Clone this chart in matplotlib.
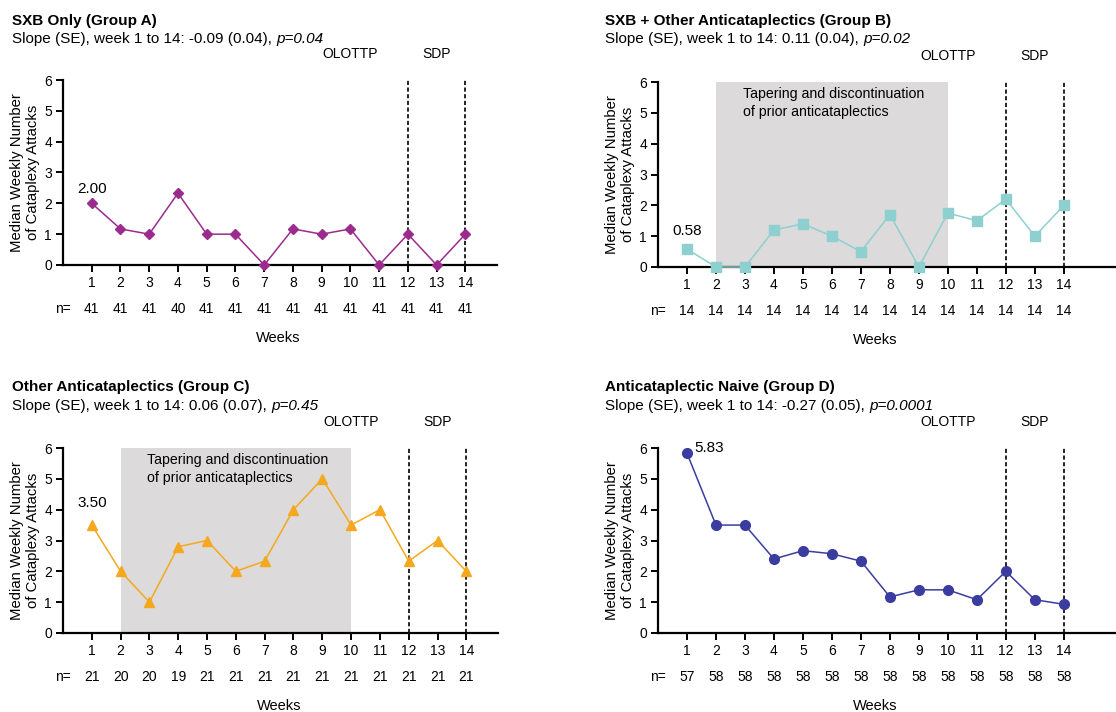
import matplotlib.pyplot as plt

plt.rcParams["font.family"] = ["Liberation Sans", "DejaVu Sans"]
plt.rcParams["font.size"] = 10

weeks = list(range(1, 15))

group_a = [2.00, 1.17, 1.00, 2.33, 1.00, 1.00, 0.00, 1.17, 1.00, 1.17, 0.00, 1.00, 0.00, 1.00]
group_b = [0.58, 0.00, 0.00, 1.20, 1.40, 1.00, 0.50, 1.70, 0.00, 1.75, 1.50, 2.20, 1.00, 2.00]
group_c = [3.50, 2.00, 1.00, 2.80, 3.00, 2.00, 2.33, 4.00, 5.00, 3.50, 4.00, 2.33, 3.00, 2.00]
group_d = [5.83, 3.50, 3.50, 2.40, 2.67, 2.57, 2.33, 1.17, 1.40, 1.40, 1.08, 2.00, 1.08, 0.93]

n_a = [41, 41, 41, 40, 41, 41, 41, 41, 41, 41, 41, 41, 41, 41]
n_b = [14] * 14
n_c = [21, 20, 20, 19, 21, 21, 21, 21, 21, 21, 21, 21, 21, 21]
n_d = [57, 58, 58, 58, 58, 58, 58, 58, 58, 58, 58, 58, 58, 58]

titles = [
    "SXB Only (Group A)",
    "SXB + Other Anticataplectics (Group B)",
    "Other Anticataplectics (Group C)",
    "Anticataplectic Naive (Group D)",
]
slopes = [
    ("-0.09 (0.04)", "0.04"),
    ("0.11 (0.04)", "0.02"),
    ("0.06 (0.07)", "0.45"),
    ("-0.27 (0.05)", "0.0001"),
]
first_labels = ["2.00", "0.58", "3.50", "5.83"]

W, H = 1116, 712


def px_rect(left, right, top, bottom):
    return [left / W, 1 - bottom / H, (right - left) / W, (bottom - top) / H]


panels = [
    dict(values=group_a, n=n_a, color="#9b2b8d", marker="D", ms=5.5,
         rect=px_rect(63, 497, 80, 265), xmax=15.1, taper=False,
         label_xy=(1, 2.47), label_ha="center",
         title_xy=(12, 21), sub_xy=(12, 39)),
    dict(values=group_b, n=n_b, color="#8ecfcf", marker="s", ms=7.5,
         rect=px_rect(658, 1116, 82, 267), xmax=15.8, taper=True,
         label_xy=(1, 1.17), label_ha="center",
         title_xy=(605, 21), sub_xy=(605, 39)),
    dict(values=group_c, n=n_c, color="#f5a81e", marker="^", ms=7.5,
         rect=px_rect(63, 498, 448, 633), xmax=15.1, taper=True,
         label_xy=(1, 4.22), label_ha="center",
         title_xy=(12, 387), sub_xy=(12, 406)),
    dict(values=group_d, n=n_d, color="#3a3d9f", marker="o", ms=7,
         rect=px_rect(658, 1116, 448, 633), xmax=15.8, taper=False,
         label_xy=(1.27, 6.0), label_ha="left",
         title_xy=(605, 387), sub_xy=(605, 406)),
]

fig = plt.figure(figsize=(W / 100, H / 100), dpi=100)

for p, title, (slope, pval), lab in zip(panels, titles, slopes, first_labels):
    ax = fig.add_axes(p["rect"])
    ax.set_xlim(0, p["xmax"])
    ax.set_ylim(0, 6)

    if p["taper"]:
        ax.axvspan(2, 10, ymin=0, ymax=1, color="#dcdadb", lw=0, zorder=0)
        ax.text(2.93, 5.33, "Tapering and discontinuation\nof prior anticataplectics",
                ha="left", va="center", fontsize=10.2, linespacing=1.35)

    for xv in (12, 14):
        ax.plot([xv, xv], [0, 6], color="black", ls=(0, (2.5, 1.5)), lw=1.2,
                zorder=1, clip_on=False)

    ax.plot(weeks, p["values"], color=p["color"], lw=1.1, marker=p["marker"],
            ms=p["ms"], mec=p["color"], mfc=p["color"], clip_on=False, zorder=3)

    ax.text(p["label_xy"][0], p["label_xy"][1], lab, ha=p["label_ha"],
            va="center", fontsize=11)

    ax.text(10, 6.85, "OLOTTP", ha="center", va="center", fontsize=10)
    ax.text(13, 6.85, "SDP", ha="center", va="center", fontsize=10)

    for side in ("top", "right"):
        ax.spines[side].set_visible(False)
    for side in ("left", "bottom"):
        ax.spines[side].set_linewidth(1.6)
    ax.set_xticks(weeks)
    ax.set_yticks(range(0, 7))
    ax.tick_params(axis="both", length=5, width=1.4, labelsize=10, pad=3)

    ax.set_ylabel("Median Weekly Number\nof Cataplexy Attacks", fontsize=10.7,
                  linespacing=1.2, labelpad=3)

    ax.text(0, -1.43, "n=", ha="center", va="center", fontsize=10, clip_on=False)
    for w, nv in zip(weeks, p["n"]):
        ax.text(w, -1.43, str(nv), ha="center", va="center", fontsize=10,
                clip_on=False)
    ax.text(7.5, -2.36, "Weeks", ha="center", va="center", fontsize=10.5,
            clip_on=False)

    tx, ty = p["title_xy"]
    fig.text(tx / W, 1 - ty / H, title, ha="left", va="center",
             fontsize=11, fontweight="bold")
    sx, sy = p["sub_xy"]
    sub = fig.text(sx / W, 1 - sy / H, f"Slope (SE), week 1 to 14: {slope}, ",
                   ha="left", va="center", fontsize=11)
    fig.canvas.draw()
    bb = sub.get_window_extent()
    fig.text(bb.x1 / W, 1 - sy / H, f"p={pval}", ha="left", va="center",
             fontsize=11, style="italic")

fig.savefig("out.png", dpi=100)
